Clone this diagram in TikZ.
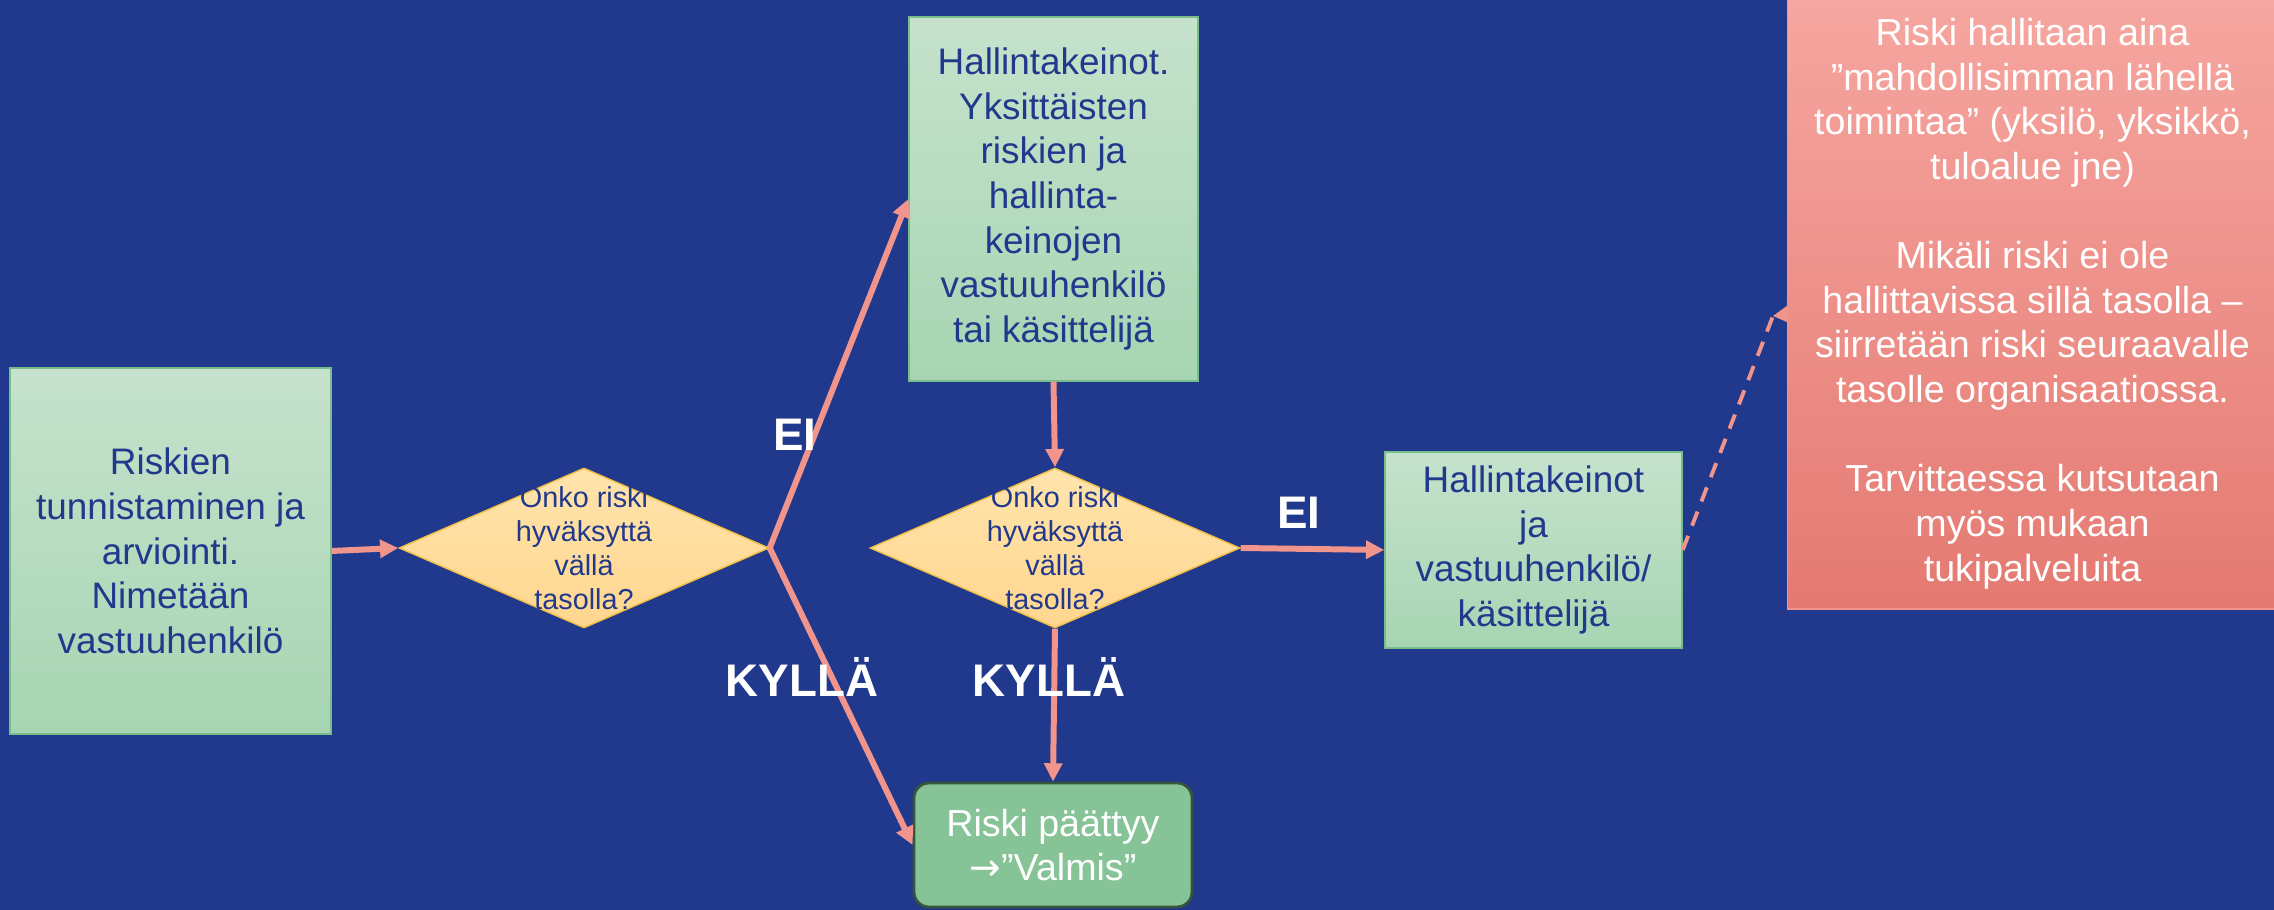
\documentclass[tikz,border=0pt]{standalone}
\usepackage{fontspec}
\setmainfont{Liberation Sans}
\newfontfamily\arrowfont{DejaVu Sans}
\usepackage{tikz}
\usetikzlibrary{shapes.geometric,arrows.meta}
\definecolor{bgblue}{RGB}{33,57,140}
\definecolor{boxtop}{RGB}{198,226,204}
\definecolor{boxbot}{RGB}{167,213,179}
\definecolor{boxline}{RGB}{120,190,140}
\definecolor{qtop}{RGB}{255,228,172}
\definecolor{qbot}{RGB}{255,214,142}
\definecolor{qline}{RGB}{240,190,70}
\definecolor{arrowpink}{RGB}{240,148,140}
\definecolor{donegreen}{RGB}{134,196,151}
\definecolor{doneline}{RGB}{55,85,60}
\definecolor{notetop}{RGB}{246,166,160}
\definecolor{notebot}{RGB}{228,122,114}
\definecolor{notemid}{RGB}{240,148,140}

\begin{document}
\begin{tikzpicture}[
    stepbox/.style={draw=boxline,top color=boxtop,bottom color=boxbot,text=bgblue,
        align=center,inner sep=0pt,font=\fontsize{10.5}{12.7}\selectfont},
    decision/.style={diamond,draw=qline,top color=qtop,bottom color=qbot,inner sep=0pt,
        minimum width=3.7cm,minimum height=1.6cm},
    qtext/.style={text=bgblue,align=center,font=\fontsize{8.2}{9.7}\selectfont},
    flow/.style={arrowpink,line width=1.7pt,-{Triangle[length=5.2pt,width=5pt]}},
    answer/.style={text=white,font=\bfseries\fontsize{13}{15}\selectfont}]
        \fill[bgblue] (0,0) rectangle (22.74,9.10);
        \useasboundingbox (0,0) rectangle (22.74,9.10);
        % boxes
        \node[stepbox,minimum width=3.21cm,minimum height=3.66cm] (ident) at (1.705,3.59)
            {Riskien\\tunnistaminen ja\\arviointi.\\Nimetään\\vastuuhenkilö};
        \node[decision] (d1) at (5.84,3.62) {};
        \node[qtext] (d1text) at (d1) {Onko riski\\hyväksyttä\\vällä\\tasolla?};
        \node[stepbox,minimum width=2.89cm,minimum height=3.64cm] (owner) at (10.535,7.11)
            {Hallintakeinot.\\Yksittäisten\\riskien ja\\hallinta-\\keinojen\\vastuuhenkilö\\tai käsittelijä};
        \node[decision] (d2) at (10.55,3.62) {};
        \node[qtext] (d2text) at (d2) {Onko riski\\hyväksyttä\\vällä\\tasolla?};
        \node[stepbox,minimum width=2.97cm,minimum height=1.96cm] (ctrl) at (15.335,3.60)
            {Hallintakeinot\\ja\\vastuuhenkilö/\\käsittelijä};
        \node[draw=doneline,line width=0.8pt,fill=donegreen,rounded corners=0.15cm,
            minimum width=2.78cm,minimum height=1.24cm,inner sep=0pt,text=white,align=center,
            font=\fontsize{10.7}{12.7}\selectfont] (done) at (10.53,0.65)
            {Riski päättyy\\{\arrowfont →}”Valmis”};
        \node[draw=notemid,top color=notetop,bottom color=notebot,minimum width=4.9cm,
            minimum height=6.11cm,inner sep=0pt,text=white,align=center,
            font=\fontsize{10.7}{12.7}\selectfont] (note) at (20.325,6.065)
            {Riski hallitaan aina\\”mahdollisimman lähellä\\toimintaa” (yksilö, yksikkö,\\tuloalue jne)\\[12.7pt]
             Mikäli riski ei ole\\hallittavissa sillä tasolla –\\siirretään riski seuraavalle\\tasolle organisaatiossa.\\[12.7pt]
             Tarvittaessa kutsutaan\\myös mukaan\\tukipalveluita};
        % pointer of the note
        \coordinate (tip) at (17.73,5.94);
        \fill[notemid] (tip) -- (note.west |- 0,6.04) -- (note.west |- 0,5.88) -- cycle;
        % connectors
        \draw[flow] (ident.east) -- (d1.west);
        \draw[flow] (d1.east) -- (owner.west);
        \draw[flow] (d1.east) -- (done.west);
        \draw[flow] (owner.south) -- (d2.north);
        \draw[flow] (d2.south) -- (done.north);
        \draw[flow] (d2.east) -- (ctrl.west);
        \draw[arrowpink,line width=1.1pt,dash pattern=on 4.3pt off 3.1pt] (ctrl.east) -- (tip);
        % answers
        \node[answer] (ei1) at (7.95,4.75) {EI};
        \node[answer] (yes1) at (8.02,2.33) {KYLLÄ};
        \node[answer] (yes2) at (10.49,2.33) {KYLLÄ};
        \node[answer] (ei2) at (12.99,3.97) {EI};
    \end{tikzpicture}
\end{document}
